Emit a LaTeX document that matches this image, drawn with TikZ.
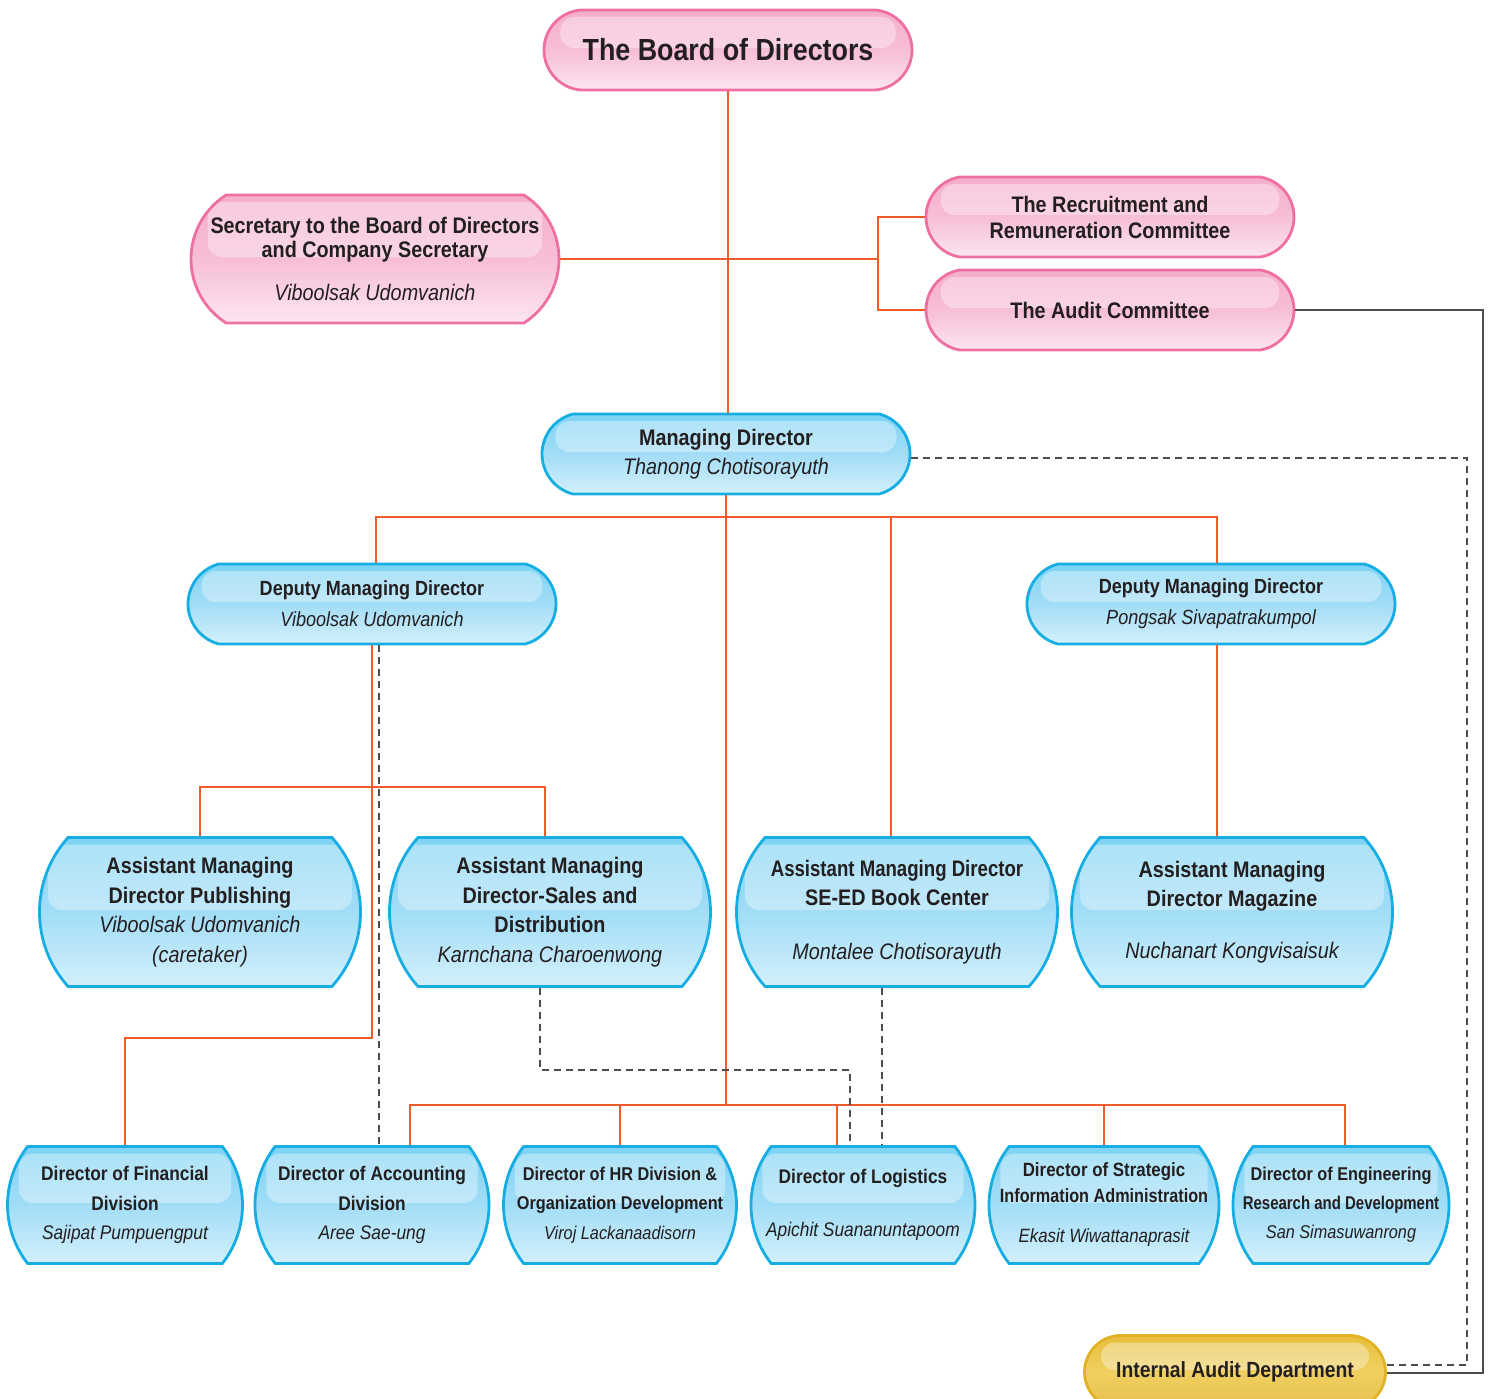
\documentclass[tikz,border=0pt]{standalone}
\usepackage{fontspec}
\usepackage{graphicx}
\setmainfont{Liberation Sans}[FakeStretch=0.88]
\usetikzlibrary{shapes.misc}

\definecolor{orgorange}{HTML}{F15A29}
\definecolor{orgtext}{HTML}{231F20}
\definecolor{pinkline}{HTML}{EE6FA1}
\definecolor{pinktop}{HTML}{F5AECC}
\definecolor{pinkmid}{HTML}{F7BED7}
\definecolor{pinkbot}{HTML}{FCE6F0}
\definecolor{blueline}{HTML}{16AEE2}
\definecolor{bluetop}{HTML}{7ED3F4}
\definecolor{bluemid}{HTML}{A2DDF7}
\definecolor{bluebot}{HTML}{D3F0FB}
\definecolor{goldline}{HTML}{E0B224}
\definecolor{goldtop}{HTML}{E8BE3A}
\definecolor{goldmid}{HTML}{EFD061}
\definecolor{goldbot}{HTML}{E6C04E}
\definecolor{dashgray}{HTML}{4D4D4D}

\newcommand\pname[1]{{\mdseries\itshape #1}}
\newcommand\narrow[2][0.94]{\scalebox{#1}[1]{#2}}

\tikzset{
  orgbox/.style={rounded rectangle, line width=2.8pt, inner sep=0pt,
    align=center, text=orgtext,
    path picture={\fill[white, opacity=.35, rounded corners=14pt]
      ([xshift=18pt, yshift=-7pt]path picture bounding box.north west)
      rectangle ([xshift=-18pt, yshift=2pt]path picture bounding box.east);}},
  pinkbox/.style={orgbox, draw=pinkline, top color=pinktop, bottom color=pinkbot, middle color=pinkmid},
  bluebox/.style={orgbox, draw=blueline, top color=bluetop, bottom color=bluebot, middle color=bluemid},
  goldbox/.style={orgbox, draw=goldline, top color=goldtop, bottom color=goldbot, middle color=goldmid},
  pillbox/.style={rounded rectangle arc length=160, minimum width=368pt, minimum height=80pt},
  tallbox/.style={rounded rectangle arc length=84, minimum width=321pt, minimum height=149pt,
    font=\bfseries\fontsize{22.5}{29.5}\selectfont},
  lowbox/.style={rounded rectangle arc length=76, minimum height=117pt,
    font=\bfseries\fontsize{19.7}{29.5}\selectfont},
  orgline/.style={draw=orgorange, line width=1.8pt},
  dashline/.style={draw=dashgray, line width=1.3pt, dash pattern=on 7pt off 5pt},
  audline/.style={draw=dashgray, line width=1.4pt}
}

\begin{document}
\begin{tikzpicture}[x=1pt, y=-1pt]
  \useasboundingbox (0,0) rectangle (1491,1399);

  % board and committees
  \node[pinkbox, pillbox, rounded rectangle arc length=170, font=\bfseries\fontsize{30.5}{34}\selectfont]
    (board) at (728,50) {The Board of Directors};
  \node[pinkbox, rounded rectangle arc length=115, minimum width=368pt, minimum height=128pt,
    font=\bfseries\fontsize{22.5}{24}\selectfont]
    (sec) at (375,259) {Secretary to the Board of Directors\\and Company Secretary\\[19pt]\pname{Viboolsak Udomvanich}};
  \node[pinkbox, pillbox, font=\bfseries\fontsize{22.5}{26}\selectfont]
    (rrc) at (1110,217) {The Recruitment and\\Remuneration Committee};
  \node[pinkbox, pillbox, font=\bfseries\fontsize{22.5}{26}\selectfont]
    (aud) at (1110,310) {The Audit Committee};

  % managing directors
  \node[bluebox, pillbox, rounded rectangle arc length=150, font=\bfseries\fontsize{22.5}{29}\selectfont]
    (md) at (726,454) {Managing Director\\\pname{Thanong Chotisorayuth}};
  \node[bluebox, pillbox, rounded rectangle arc length=150, font=\bfseries\fontsize{20.5}{31}\selectfont]
    (dmdL) at (372,604) {Deputy Managing Director\\\pname{Viboolsak Udomvanich}};
  \node[bluebox, pillbox, rounded rectangle arc length=150, font=\bfseries\fontsize{20.5}{31}\selectfont]
    (dmdR) at (1211,604) {Deputy Managing Director\\\pname{Pongsak Sivapatrakumpol}};

  % assistant managing directors
  \node[bluebox, tallbox] (amdP) at (200,912)
    {Assistant Managing\\Director Publishing\\\pname{Viboolsak Udomvanich}\\\pname{(caretaker)}};
  \node[bluebox, tallbox] (amdS) at (550,912)
    {Assistant Managing\\Director-Sales and\\Distribution\\\pname{Karnchana Charoenwong}};
  \node[bluebox, tallbox] (amdB) at (897,912)
    {\narrow{Assistant Managing Director}\\SE-ED Book Center\\[24pt]\pname{Montalee Chotisorayuth}};
  \node[bluebox, tallbox] (amdM) at (1232,912)
    {Assistant Managing\\Director Magazine\\[22pt]\pname{Nuchanart Kongvisaisuk}};

  % directors
  \node[bluebox, lowbox, minimum width=235pt] (fin) at (125,1205)
    {Director of Financial\\Division\\\pname{Sajipat Pumpuengput}};
  \node[bluebox, lowbox, minimum width=234pt] (acc) at (372,1205)
    {Director of Accounting\\Division\\\pname{Aree Sae-ung}};
  \node[bluebox, lowbox, minimum width=233pt, font=\bfseries\fontsize{18.5}{29.5}\selectfont] (hr) at (620,1205)
    {Director of HR Division \&\\Organization Development\\\pname{Viroj Lackanaadisorn}};
  \node[bluebox, lowbox, minimum width=224pt] (log) at (863,1205)
    {Director of Logistics\\[24pt]\pname{Apichit Suananuntapoom}};
  \node[bluebox, lowbox, minimum width=230pt, font=\bfseries\fontsize{19.2}{26}\selectfont] (str) at (1104,1205)
    {Director of Strategic\\\narrow[0.96]{Information Administration}\\[14pt]\pname{Ekasit Wiwattanaprasit}};
  \node[bluebox, lowbox, minimum width=216pt, font=\bfseries\fontsize{18.5}{29}\selectfont] (eng) at (1341,1205)
    {Director of Engineering\\\narrow[0.92]{Research and Development}\\\pname{San Simasuwanrong}};

  \node[goldbox, rounded rectangle arc length=170, minimum width=301pt, minimum height=73pt,
    font=\bfseries\fontsize{22}{28}\selectfont] (ia) at (1235,1372) {Internal Audit Department};

  % junctions
  \coordinate (cmt) at (878,259);
  \coordinate (mdbus) at (726,517);
  \coordinate (pubbus) at (372,787);
  \coordinate (finbus) at (372,1038);
  \coordinate (dirbus) at (726,1105);
  \coordinate (salesdash) at (850,1070);
  \coordinate (iadash) at (1467,1365);
  \coordinate (iasolid) at (1483,1373);

  % solid reporting lines
  \draw[orgline] (board.south) -- (board.south |- md.north);
  \draw[orgline] (sec.east) -- (sec.east -| cmt);
  \draw[orgline] (rrc.west) -| (cmt) |- (aud.west);
  \draw[orgline] ([xshift=4pt]dmdL.north) |- (mdbus) -| ([xshift=6pt]dmdR.north);
  \draw[orgline] ([xshift=-6pt]amdB.north) -- ([xshift=-6pt]amdB.north |- mdbus);
  \draw[orgline] (md.south) -- (dirbus);
  \draw[orgline] (dmdL.south) -- (finbus) -| (fin.north);
  \draw[orgline] (amdP.north) |- (pubbus) -| ([xshift=-5pt]amdS.north);
  \draw[orgline] ([xshift=6pt]dmdR.south) -- ([xshift=6pt]dmdR.south |- amdM.north);
  \draw[orgline] ([xshift=38pt]acc.north) |- (dirbus) -| ([xshift=4pt]eng.north);
  \draw[orgline] ([xshift=-26pt]log.north) -- ([xshift=-26pt]log.north |- dirbus);
  \foreach \d in {hr, str}
    \draw[orgline] (\d.north) -- (\d.north |- dirbus);

  % dotted lines
  \draw[dashline] ([xshift=7pt]dmdL.south) -- ([xshift=7pt]dmdL.south |- acc.north);
  \draw[dashline] ([xshift=-10pt]amdS.south) |- (salesdash) -- (salesdash |- log.north);
  \draw[dashline] ([xshift=-15pt]amdB.south) -- ([xshift=-15pt]amdB.south |- log.north);
  \draw[dashline] ([yshift=-4pt]md.east) -| (iadash) -- (iadash -| ia.east);
  \draw[audline] (aud.east) -| (iasolid) -- (iasolid -| ia.east);
\end{tikzpicture}
\end{document}
